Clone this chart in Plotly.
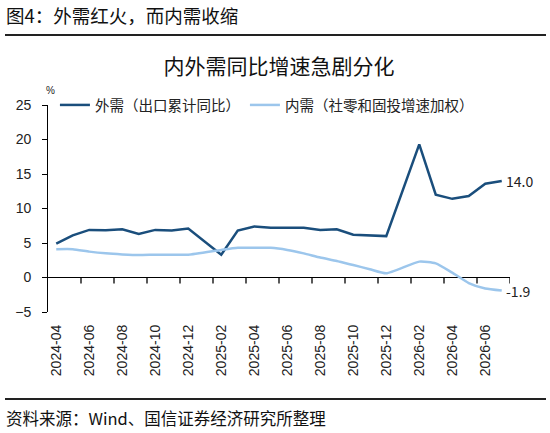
import plotly.graph_objects as go

# monthly categories 2024-04 .. 2026-07
months = []
for y in (2024, 2025, 2026):
    for m in range(1, 13):
        if (y, m) < (2024, 4) or (y, m) > (2026, 7):
            continue
        months.append(f"{y}-{m:02d}")

# January values are not published separately (Jan-Feb combined)
export_yoy = [4.9, 6.1, 6.9, 6.85, 7.0, 6.3, 6.9, 6.8, 7.1, None,
              3.3, 6.8, 7.4, 7.2, 7.15, 7.2, 6.9, 7.0, 6.2, 6.1,
              6.0, None, 19.3, 12.0, 11.4, 11.8, 13.6, 14.0]
domestic_yoy = [4.1, 4.1, 3.75, 3.5, 3.35, 3.25, 3.3, 3.3, 3.3, None,
                4.0, 4.3, 4.3, 4.3, 4.0, 3.5, 2.9, 2.4, 1.8, 1.2,
                0.6, None, 2.3, 2.05, 0.7, -0.8, -1.6, -1.9]

dark_blue = "#1a4e7c"
light_blue = "#9cc6ec"
cjk = "Noto Sans CJK SC"
num_font = "Liberation Sans, Arial"

idx = list(range(len(months)))
y_lo, y_hi = -5, 25
plot_h = 433 - 105 - 121
px_per_unit = plot_h / (y_hi - y_lo)

fig = go.Figure()
fig.add_trace(go.Scatter(
    x=idx, y=export_yoy, name="外需（出口累计同比）",
    mode="lines", connectgaps=True,
    line=dict(color=dark_blue, width=2.5),
))
fig.add_trace(go.Scatter(
    x=idx, y=domestic_yoy, name="内需（社零和固投增速加权）",
    mode="lines", connectgaps=True,
    line=dict(color=light_blue, width=2.5, shape="spline", smoothing=0.5),
))
# tick marks hanging below the zero line, on every second category boundary
bounds = [i + 0.5 for i in idx[1::2]]
fig.add_trace(go.Scatter(
    x=bounds, y=[0] * len(bounds), mode="markers",
    marker=dict(size=1, color="rgba(0,0,0,0)"),
    error_y=dict(type="data", symmetric=False, array=[0] * len(bounds),
                 arrayminus=[6 / px_per_unit] * len(bounds),
                 color="black", thickness=1.3, width=0),
    showlegend=False, hoverinfo="skip",
))

fig.update_layout(
    width=550, height=433,
    paper_bgcolor="white", plot_bgcolor="white",
    margin=dict(l=48, r=40, t=105, b=121),
    font=dict(family=num_font, size=14, color="#222222"),
    showlegend=True,
    legend=dict(orientation="h", x=0.015, y=1.0, xanchor="left", yanchor="middle",
                font=dict(family=cjk, size=14.5, color="#222222"),
                bgcolor="rgba(0,0,0,0)", itemwidth=30, tracegroupgap=0),
    xaxis=dict(range=[-0.5, len(months) - 0.5], showgrid=False, showline=False,
               zeroline=False, ticks="", tickmode="array",
               tickvals=idx[::2], ticktext=months[::2], tickangle=-90,
               ticklabelstandoff=9,
               tickfont=dict(family=num_font, size=14, color="#222222")),
    yaxis=dict(range=[y_lo, y_hi], dtick=5, showgrid=False,
               zeroline=True, zerolinecolor="black", zerolinewidth=1.3,
               showline=True, linecolor="black", linewidth=1.3,
               ticks="outside", ticklen=5, tickcolor="black", tickwidth=1.3,
               ticksuffix="  ",
               tickfont=dict(family=num_font, size=14, color="#222222")),
    title=dict(text="内外需同比增速急剧分化", x=0.5, xref="paper", xanchor="center",
               y=1 - 67 / 433, yref="container", yanchor="middle",
               font=dict(family=cjk, size=21, color="#111111")),
)

# value labels at the last point of each series
for vals in (export_yoy, domestic_yoy):
    fig.add_annotation(x=idx[-1], y=vals[-1], text=f"{vals[-1]:.1f}",
                       xanchor="left", yanchor="middle", xshift=2, showarrow=False,
                       font=dict(family=cjk, size=14, color="#222222"))

# header, rules and source note
fig.add_annotation(text="图4：外需红火，而内需收缩", xref="paper", yref="paper",
                   x=-44 / 462, y=1 + (105 - 15) / plot_h, xanchor="left", yanchor="middle",
                   showarrow=False, font=dict(family=cjk, size=18.5, color="#111111"))
fig.add_annotation(text="资料来源：Wind、国信证券经济研究所整理", xref="paper", yref="paper",
                   x=-44 / 462, y=-(418 - 312) / plot_h, xanchor="left", yanchor="middle",
                   showarrow=False, font=dict(family=cjk, size=16.5, color="#111111"))
fig.add_annotation(text="%", xref="paper", yref="paper",
                   x=2 / 462, y=1 + (105 - 91) / plot_h, xanchor="center", yanchor="middle",
                   showarrow=False, font=dict(family=num_font, size=10, color="#222222"))
for y_px in (35, 399):
    yy = (312 - y_px) / plot_h
    fig.add_shape(type="line", xref="paper", yref="paper",
                  x0=-43 / 462, x1=498 / 462, y0=yy, y1=yy,
                  line=dict(color="#222222", width=2))

fig.write_html("out.html", config={"displayModeBar": False},
               post_script="document.body.style.margin='0';")
